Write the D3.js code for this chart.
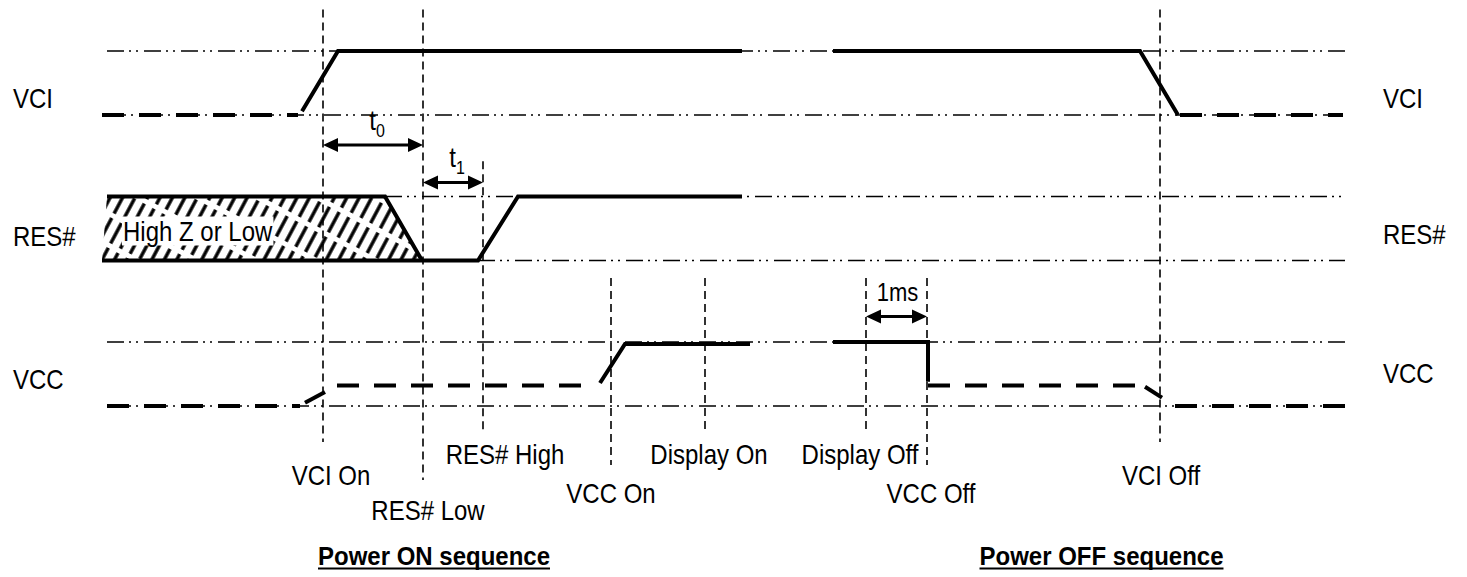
<!DOCTYPE html>
<html>
<head>
<meta charset="utf-8">
<script src="https://cdn.jsdelivr.net/npm/d3@7"></script>
<style>
  body { margin: 0; background: #fff; }
  text { font-family: "Liberation Sans", Arial, sans-serif; fill: #000; }
</style>
</head>
<body>
<div id="chart"></div>
<script>
// signal rows of the timing diagram
const signals = ["VCI", "RES#", "VCC"];

// events on the time axis (arbitrary time units)
const eventTimes  = [22.3, 32.3, 38.3, 51.1, 60.5, 76.6, 82.7, 106];
const eventLabels = ["VCI On", "RES# Low", "RES# High", "VCC On", "Display On", "Display Off", "VCC Off", "VCI Off"];
const eventRows   = ["VCI", "VCI", "RES#", "VCC", "VCC", "VCC", "VCC", "VCI"];
const eventTiers  = [1, 3, 0, 2, 0, 0, 2, 1];

// waveforms: [time, level] with level 0 = low, 1 = high
const waveVCI = [
  { kind: "dash",  pts: [[0.2, 0], [19.8, 0]] },
  { kind: "solid", pts: [[20.2, 0.06], [23.8, 1], [64.2, 1]] },
  { kind: "solid", pts: [[73.3, 1], [104, 1], [107.8, 0]] },
  { kind: "dash",  pts: [[108, 0], [124.3, 0]] }
];
const waveRES = [
  { kind: "solid", pts: [[0.2, 0], [37.8, 0], [41.8, 1], [64.2, 1]] },
  { kind: "solid", pts: [[0.7, 1], [28.5, 1], [32.2, 0]] }
];
const hatchRES = [[0.7, 1], [28.5, 1], [32.2, 0], [0.2, 0]];
const waveVCC = [
  { kind: "dash",  pts: [[0.7, 0], [20, 0]] },
  { kind: "solid", pts: [[20.5, 0.05], [22.5, 0.22]] },
  { kind: "dash",  pts: [[23.7, 0.32], [48.5, 0.32]] },
  { kind: "solid", pts: [[50, 0.36], [52.5, 0.97], [65, 0.97]] },
  { kind: "solid", pts: [[73.3, 1], [82.8, 1], [82.8, 0.38]] },
  { kind: "dash",  pts: [[82.8, 0.32], [103.5, 0.32]] },
  { kind: "solid", pts: [[104.5, 0.3], [106.2, 0.13]] },
  { kind: "dash",  pts: [[107.5, 0], [124.5, 0]] }
];
const waves = { "VCI": waveVCI, "RES#": waveRES, "VCC": waveVCC };

// thin reference levels: [row, level, from, to]
const refLevels = [
  ["VCI", 1, 0.7, 124.7], ["VCI", 0, 0.2, 124.3],
  ["RES#", 1, 28.5, 124.7], ["RES#", 0, 37.8, 124.5],
  ["VCC", 1, 0.7, 124.5], ["VCC", 0, 0.7, 124.5]
];

// timing spans between events
const spans = [
  { from: 0, to: 1, row: "VCI",  level: -0.47, text: "t", sub: "0" },
  { from: 1, to: 2, row: "RES#", level: 1.22,  text: "t", sub: "1" },
  { from: 5, to: 6, row: "VCC",  level: 1.4,   text: "1ms", sub: "" }
];

const titles = [
  { text: "Power ON sequence",  t: 33.4 },
  { text: "Power OFF sequence", t: 100.15 }
];
const hatchText = "High Z or Low";

// ---- layout ----
const W = 1467, H = 577;
const tierBaseline = [464, 485, 503, 520];
const tierBottom = [434, 442, 465, 480];
const rowReach = { "VCI": 0.65, "RES#": 0.55, "VCC": 1.0 };
const rowLabelDy = { "VCI": -7, "RES#": -15, "VCC": -17 };
const rightLabelDy = { "VCI": -7, "RES#": -17, "VCC": -23 };
const labelShift = [8, 5, 22, 0, 4, -6, 4, 1];
const sy = 1.17;

const svg = d3.select("#chart").append("svg")
  .attr("width", W).attr("height", H);

const x = d3.scaleLinear().domain([0, 125]).range([100, 1350]);
const rowBase = d3.scalePoint().domain(signals).range([115, 406]);
const yScale = {};
signals.forEach(s => {
  yScale[s] = d3.scaleLinear().domain([0, 1]).range([rowBase(s), rowBase(s) - 64]);
});

function label(str, px, py, opts = {}) {
  return svg.append("text")
    .attr("transform", `translate(${px},${py}) scale(1,${opts.sy || sy})`)
    .attr("font-size", opts.size || 24)
    .attr("font-weight", opts.weight || "normal")
    .attr("text-anchor", opts.anchor || "start")
    .text(str);
}

// hatch pattern
const defs = svg.append("defs");
const pat = defs.append("pattern")
  .attr("id", "hatch")
  .attr("patternUnits", "userSpaceOnUse")
  .attr("width", 11).attr("height", 28)
  .attr("patternTransform", "rotate(28)");
pat.append("line")
  .attr("x1", 3).attr("x2", 3).attr("y1", 0).attr("y2", 28)
  .attr("stroke", "#000").attr("stroke-width", 3.4)
  .attr("stroke-dasharray", "23,5");

// reference levels
svg.append("g").selectAll("line")
  .data(refLevels)
  .join("line")
  .attr("x1", d => x(d[2])).attr("x2", d => x(d[3]))
  .attr("y1", d => yScale[d[0]](d[1])).attr("y2", d => yScale[d[0]](d[1]))
  .attr("stroke", "#000").attr("stroke-width", 1.5)
  .attr("stroke-dasharray", "17,5,2,5,2,6");

// hatched region of RES#
svg.append("path")
  .attr("d", d3.line().x(d => x(d[0])).y(d => yScale["RES#"](d[1]))(hatchRES) + "Z")
  .attr("fill", "url(#hatch)");

const ht = label(hatchText, x(2.3), yScale["RES#"](0) - 20);
const hb = ht.node().getBBox();
svg.insert("rect", "text")
  .attr("x", x(2.3) - 1).attr("y", yScale["RES#"](0) - 44)
  .attr("width", hb.width + 2).attr("height", 29)
  .attr("fill", "#fff");

// event marker lines
svg.append("g").selectAll("line")
  .data(eventTimes)
  .join("line")
  .attr("x1", d => x(d)).attr("x2", d => x(d))
  .attr("y1", (d, i) => yScale[eventRows[i]](1 + rowReach[eventRows[i]]))
  .attr("y2", (d, i) => tierBottom[eventTiers[i]])
  .attr("stroke", "#000").attr("stroke-width", 1.6)
  .attr("stroke-dasharray", "8,5");

// waveforms
signals.forEach(s => {
  const line = d3.line().x(d => x(d[0])).y(d => yScale[s](d[1]));
  svg.append("g").selectAll("path")
    .data(waves[s])
    .join("path")
    .attr("d", d => line(d.pts))
    .attr("fill", "none")
    .attr("stroke", "#000").attr("stroke-width", 4)
    .attr("stroke-linejoin", "miter")
    .attr("stroke-dasharray", d => d.kind === "dash" ? "22,15" : null);
});

// timing arrows
spans.forEach(sp => {
  const x1 = x(eventTimes[sp.from]), x2 = x(eventTimes[sp.to]);
  const yy = yScale[sp.row](sp.level);
  const hl = 15, hw = 7;
  svg.append("line")
    .attr("x1", x1 + hl - 2).attr("x2", x2 - hl + 2)
    .attr("y1", yy).attr("y2", yy)
    .attr("stroke", "#000").attr("stroke-width", 3);
  svg.append("path")
    .attr("d", `M${x1},${yy}L${x1 + hl},${yy - hw}L${x1 + hl},${yy + hw}Z M${x2},${yy}L${x2 - hl},${yy - hw}L${x2 - hl},${yy + hw}Z`)
    .attr("fill", "#000");
  const t = label(sp.text, (x1 + x2) / 2 + (sp.sub ? 4 : 1), yy - 15,
    { anchor: "middle", size: sp.sub ? 24 : 22 });
  if (sp.sub) {
    t.append("tspan").attr("font-size", 16).attr("dy", 6).text(sp.sub);
  }
});

// row labels on both sides
signals.forEach(s => {
  label(s, 13, rowBase(s) + rowLabelDy[s]);
  label(s, 1383, rowBase(s) + rightLabelDy[s]);
});

// event labels
eventLabels.forEach((txt, i) => {
  label(txt, x(eventTimes[i]) + labelShift[i], tierBaseline[eventTiers[i]], { anchor: "middle" });
});

// section titles
titles.forEach(tt => {
  const t = label(tt.text, x(tt.t), 565, { anchor: "middle", weight: "bold", sy: 1.08 });
  const w = t.node().getComputedTextLength();
  svg.append("line")
    .attr("x1", x(tt.t) - w / 2).attr("x2", x(tt.t) + w / 2)
    .attr("y1", 568.5).attr("y2", 568.5)
    .attr("stroke", "#000").attr("stroke-width", 2);
});
</script>
</body>
</html>
